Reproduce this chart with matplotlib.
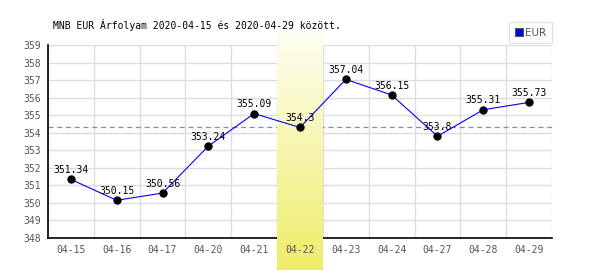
import numpy as np
import matplotlib
matplotlib.use("Agg")
import matplotlib.pyplot as plt
import matplotlib.transforms as mtransforms
from matplotlib.colors import LinearSegmentedColormap

# MNB EUR exchange rates
dates = ['04-15', '04-16', '04-17', '04-20', '04-21', '04-22',
         '04-23', '04-24', '04-27', '04-28', '04-29']
eur = [351.34, 350.15, 350.56, 353.24, 355.09, 354.3,
       357.04, 356.15, 353.8, 355.31, 355.73]
highlight = '04-22'
y_ticks = list(range(348, 360))

plt.rcParams['font.family'] = ['DejaVu Sans Mono']

fig = plt.figure(figsize=(6, 2.7), dpi=100)
ax = fig.add_axes([48 / 600, 32 / 270, 504 / 600, 193 / 270])

x = np.arange(len(dates))
hi = dates.index(highlight)

# grid: horizontal at each integer, vertical at category borders
for v in y_ticks:
    ax.axhline(v, color='#dddddd', lw=1, zorder=1)
for b in np.arange(len(dates) + 1) - 0.5:
    ax.axvline(b, color='#dddddd', lw=1, zorder=1)

# reference line at the highlighted day's value
ax.axhline(eur[hi], color='#8080ff', lw=0.9, ls=(0, (4, 3)), zorder=2)

# highlighted day: vertical gradient band
cmap = LinearSegmentedColormap.from_list('band', ['#fefef2', '#efed68'])
grad = np.linspace(0, 1, 256).reshape(-1, 1)
trans = mtransforms.blended_transform_factory(ax.transData, ax.transAxes)
ax.imshow(grad, cmap=cmap, aspect='auto', origin='upper',
          extent=(hi - 0.5, hi + 0.5, -0.166, 1.057),
          transform=trans, clip_on=False, zorder=4)

ax.plot(x, eur, color='#0000ff', lw=0.8, zorder=5, label='EUR')
ax.plot(x, eur, 'o', color='black', ms=5, zorder=6)

for xi, v in zip(x, eur):
    ax.annotate(f'{v:g}', (xi, v), xytext=(0, 4.5), textcoords='offset points',
                ha='center', va='baseline', fontsize=7, color='black', zorder=5)

ax.set_xlim(-0.5, len(dates) - 0.5)
ax.set_ylim(348, 359)
ax.set_xticks(x)
ax.set_xticklabels(dates)
ax.set_yticks(y_ticks)
ax.tick_params(length=0, labelsize=7, colors='#555555')
ax.tick_params(axis='y', pad=5)
ax.tick_params(axis='x', pad=5)
ax.xaxis.set_zorder(7)

for s in ['top', 'right']:
    ax.spines[s].set_visible(False)
for s in ['left', 'bottom']:
    ax.spines[s].set_color('black')
    ax.spines[s].set_linewidth(1.2)
    ax.spines[s].set_zorder(3)

fig.text(53 / 600, 1 - 25 / 270, 'MNB EUR Árfolyam 2020-04-15 és 2020-04-29 között.',
         fontsize=7, ha='left', va='center')

handle = plt.Line2D([], [], ls='none', marker='s', ms=5.5, markerfacecolor='#0000ff',
                    markeredgecolor='#555555', markeredgewidth=0.8)
leg = fig.legend([handle], ['EUR'], loc='upper right',
                 bbox_to_anchor=(552 / 600, 1 - 22 / 270),
                 prop={'family': 'DejaVu Sans', 'size': 7.5},
                 frameon=True, fancybox=False, handlelength=0.8,
                 handletextpad=0.2, borderpad=0.55, borderaxespad=0)
leg.get_frame().set_edgecolor('#dddddd')
leg.get_frame().set_linewidth(1)
for t in leg.get_texts():
    t.set_color('#555555')

fig.savefig('out.png', dpi=100)
